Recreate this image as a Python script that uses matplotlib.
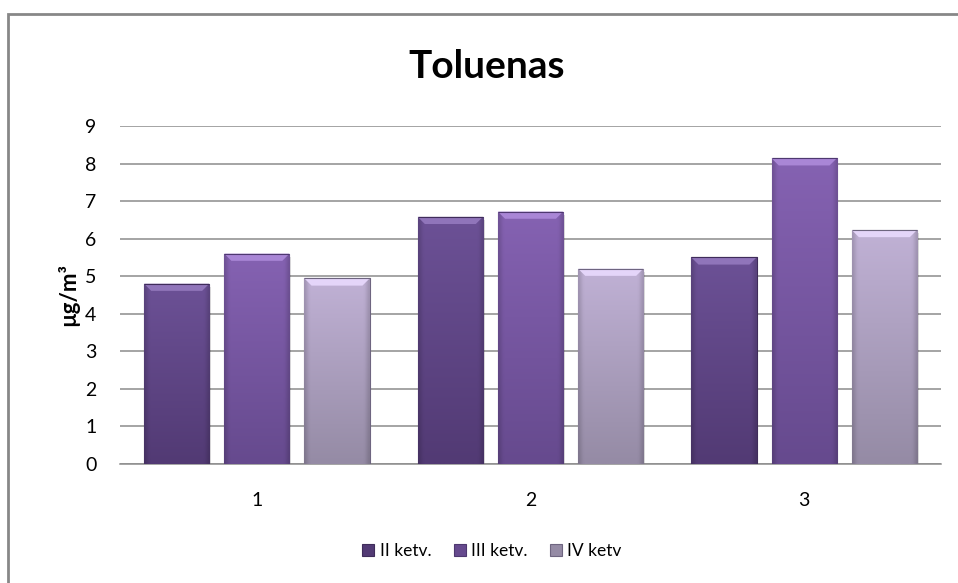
import numpy as np
import matplotlib
matplotlib.use("Agg")
from matplotlib import pyplot as plt
from matplotlib.patches import Rectangle, Polygon
from matplotlib.colors import to_rgb

plt.rcParams['font.family'] = ['Lato', 'DejaVu Sans']

categories = ['1', '2', '3']
series = ['II ketv.', 'III ketv.', 'IV ketv']
ii_ketv = [4.8, 6.58, 5.5]
iii_ketv = [5.6, 6.72, 8.14]
iv_ketv = [4.94, 5.2, 6.23]
yticks = list(range(0, 10))

# top / bottom gradient colours for each series
grads = [('#6c5196', '#523a74'), ('#8562b2', '#664a8e'), ('#c0b1d5', '#958ba5')]
edges = ['#3f2c5a', '#4e3870', '#6e6580']

fig = plt.figure(figsize=(9.58, 5.83), dpi=100)
ax = fig.add_axes([120/958, 1-464/583, (941-120)/958, (464-126)/583])

x = np.arange(len(categories))
width = 0.238
step = 0.293
values = [ii_ketv, iii_ketv, iv_ketv]

for i, vals in enumerate(values):
    bars = ax.bar(x + (i - 1) * step, vals, width, color=grads[i][1],
                  edgecolor=edges[i], linewidth=0.8, zorder=3, label=series[i])
    top = np.array(to_rgb(grads[i][0]))
    bot = np.array(to_rgb(grads[i][1]))
    for b in bars:
        bx, bw, bh = b.get_x(), b.get_width(), b.get_height()
        # soft shadow
        ax.add_patch(Rectangle((bx + 0.006, -0.08), bw, bh, color='#000000',
                               alpha=0.12, lw=0, zorder=2))
        # vertical gradient
        t = np.linspace(0, 1, 64)[:, None]
        img = top[None, None, :] * (1 - t[..., None]) + bot[None, None, :] * t[..., None]
        s = np.linspace(-1, 1, 32)
        shade = 1 - 0.15 * np.clip(np.abs(s) - 0.85, 0, 1) / 0.15
        img = np.repeat(img, 32, axis=1) * shade[None, :, None]
        im = ax.imshow(np.clip(img, 0, 1), extent=(bx, bx + bw, 0, bh),
                       aspect='auto', zorder=3.5, interpolation='bilinear')
        im.set_clip_path(b)
        # bevel on top
        dx, dy = 0.026, 0.19
        light = np.clip(top + 0.14, 0, 1)
        ax.add_patch(Polygon([(bx, bh), (bx + bw, bh), (bx + bw - dx, bh - dy), (bx + dx, bh - dy)],
                             closed=True, color=light, lw=0, zorder=4))
        ax.add_patch(Rectangle((bx, bh), bw, 0, fill=False, edgecolor=edges[i], lw=0.8, zorder=4.5))

ax.set_xlim(-0.5, 2.5)
ax.set_ylim(0, 9)
ax.set_yticks(yticks)
ax.set_xticks(x)
ax.set_xticklabels(categories)
ax.tick_params(axis='both', length=0, labelsize=14, colors='#000000')
ax.tick_params(axis='y', pad=17)
ax.tick_params(axis='x', pad=20)
ax.yaxis.grid(True, color='#8c8c8c', linewidth=1.1, zorder=0)
ax.set_axisbelow(True)
for side in ['top', 'right', 'left']:
    ax.spines[side].set_visible(False)
ax.spines['bottom'].set_color('#8c8c8c')
ax.spines['bottom'].set_linewidth(1.1)

ax.set_ylabel('µg/m³', fontsize=16, fontweight='bold', labelpad=4)
fig.text(487/958, 1 - 66/583, 'Toluenas', ha='center', va='center',
         fontsize=28, fontweight='bold')

leg = ax.legend(loc='center', bbox_to_anchor=(492/958, 1 - 551/583), bbox_transform=fig.transFigure,
                ncol=3, frameon=False, fontsize=12.5, handlelength=0.7, handleheight=0.7,
                handletextpad=0.3, columnspacing=1.3)

fig.patches.append(Rectangle((8/958, -0.1), 1.0, (583 - 14)/583 + 0.1, transform=fig.transFigure,
                             fill=False, edgecolor='#878787', linewidth=2, figure=fig))

fig.savefig('out.png', dpi=100)
